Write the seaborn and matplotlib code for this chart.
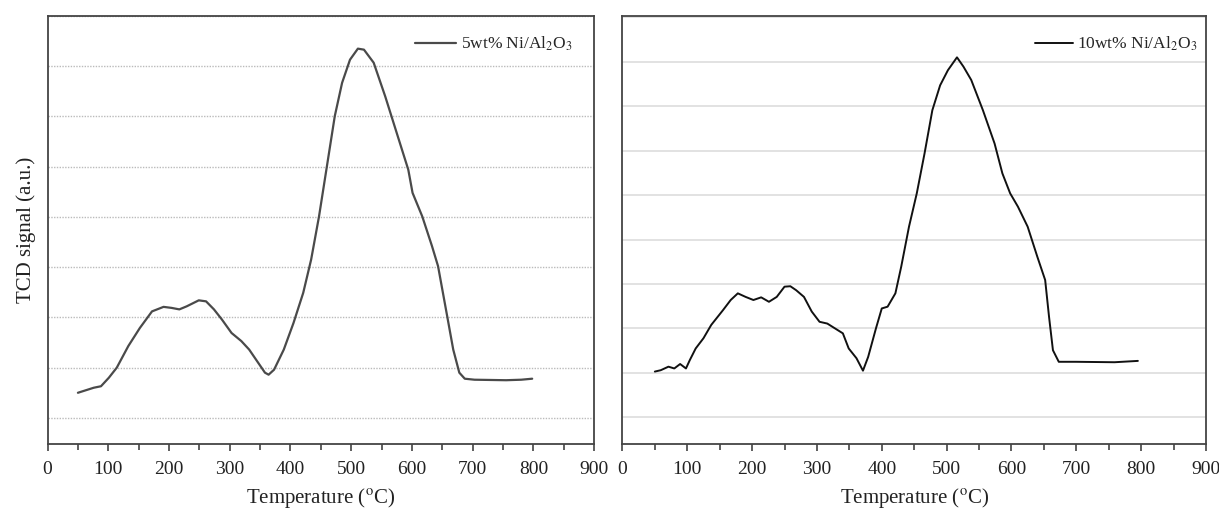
import numpy as np
import pandas as pd
import matplotlib
matplotlib.use("Agg")
import matplotlib.pyplot as plt
from matplotlib.ticker import MultipleLocator
import seaborn as sns

# ---- data (arbitrary TCD units) ----
t5 = [50, 76, 88, 101, 114, 133, 152, 172, 191, 204, 217, 229, 249, 261, 274, 287,
      303, 319, 332, 345, 358, 364, 373, 389, 405, 421, 434, 447, 460, 473, 485, 498,
      511, 521, 537, 556, 575, 594, 601, 617, 633, 643, 659, 668, 678, 687, 703, 755,
      780, 798]
s5 = [1.50, 1.60, 1.63, 1.80, 2.00, 2.43, 2.79, 3.12, 3.21, 3.19, 3.16, 3.22, 3.34, 3.32,
      3.16, 2.96, 2.69, 2.53, 2.36, 2.13, 1.90, 1.86, 1.96, 2.36, 2.89, 3.49, 4.15, 5.01,
      6.01, 7.01, 7.67, 8.13, 8.35, 8.33, 8.07, 7.40, 6.67, 5.94, 5.48, 5.01, 4.42, 4.02,
      2.96, 2.36, 1.90, 1.78, 1.76, 1.75, 1.76, 1.78]

t10 = [50, 59, 71, 80, 89, 98, 104, 113, 125, 137, 155, 167, 178, 190, 202, 214, 226,
       238, 250, 259, 268, 280, 292, 304, 316, 328, 340, 349, 361, 371, 379, 391, 400,
       409, 421, 430, 442, 454, 466, 478, 490, 502, 516, 526, 538, 556, 574, 586, 598,
       610, 625, 640, 652, 658, 664, 673, 699, 759, 795]
s10 = [2.03, 2.06, 2.14, 2.10, 2.20, 2.10, 2.29, 2.55, 2.78, 3.08, 3.41, 3.64, 3.79, 3.71,
       3.64, 3.70, 3.60, 3.71, 3.94, 3.95, 3.86, 3.71, 3.38, 3.15, 3.11, 3.00, 2.89, 2.55,
       2.33, 2.05, 2.36, 3.00, 3.45, 3.49, 3.79, 4.39, 5.29, 6.04, 6.94, 7.91, 8.47, 8.81,
       9.10, 8.89, 8.59, 7.91, 7.16, 6.49, 6.04, 5.74, 5.29, 4.61, 4.09, 3.26, 2.51, 2.25,
       2.25, 2.24, 2.27]

label5 = "5wt% Ni/Al$_2$O$_3$"
label10 = "10wt% Ni/Al$_2$O$_3$"
xlabel = "Temperature ($^{\\mathrm{o}}$C)"
ylabel = "TCD signal (a.u.)"

sns.set_style("white")
plt.rcParams['font.family'] = ['Liberation Serif', 'DejaVu Serif']
plt.rcParams['mathtext.fontset'] = 'stix'

fig = plt.figure(figsize=(12.19, 5.16), dpi=100)
ax1 = fig.add_axes([0.039, 0.1395, 0.4484, 0.8295])
ax2 = fig.add_axes([0.5106, 0.1395, 0.4787, 0.8295])

df5 = pd.DataFrame({"T": t5, "S": s5})
df10 = pd.DataFrame({"T": t10, "S": s10})

sns.lineplot(data=df5, x="T", y="S", ax=ax1, color="#4a4a4a", lw=1.6, label=label5)
sns.lineplot(data=df10, x="T", y="S", ax=ax2, color="#111111", lw=1.4, label=label10)

ax1.set_ylim(0.48, 9.0)
ax2.set_ylim(0.40, 10.03)
for ax in (ax1, ax2):
    ax.set_xlim(0, 900)
    ax.xaxis.set_major_locator(MultipleLocator(100))
    ax.xaxis.set_minor_locator(MultipleLocator(50))
    ax.yaxis.set_major_locator(MultipleLocator(1))
    ax.tick_params(axis='x', which='major', direction='out', length=5, width=1.1,
                   color='#333333', labelsize=14, bottom=True, pad=7,
                   labelcolor='#222222')
    ax.tick_params(axis='x', which='minor', direction='out', length=4, width=1.1,
                   color='#333333', bottom=True)
    ax.tick_params(axis='y', which='both', left=False, labelleft=False)
    for sp in ax.spines.values():
        sp.set_color('#444444')
        sp.set_linewidth(1.3)
    ax.set_xlabel(xlabel, fontsize=15, labelpad=6, color='#222222')
    ax.set_ylabel("")

ax1.legend(loc='center right', bbox_to_anchor=(0.960, 0.935), frameon=False,
           fontsize=12.5, handlelength=2.36, handletextpad=0.25, borderpad=0,
           borderaxespad=0)
ax2.legend(loc='center right', bbox_to_anchor=(0.986, 0.935), frameon=False,
           fontsize=12.5, handlelength=2.2, handletextpad=0.25, borderpad=0,
           borderaxespad=0)

ax1.grid(axis='y', color='#bbbbbb', linestyle=(0, (1, 1)), linewidth=1.0)
ax2.grid(axis='y', color='#dddddd', linestyle='-', linewidth=1.2)
ax1.set_axisbelow(True)
ax2.set_axisbelow(True)
ax1.set_ylabel(ylabel, fontsize=15, labelpad=8, color='#222222')

fig.savefig("out.png", dpi=100)
